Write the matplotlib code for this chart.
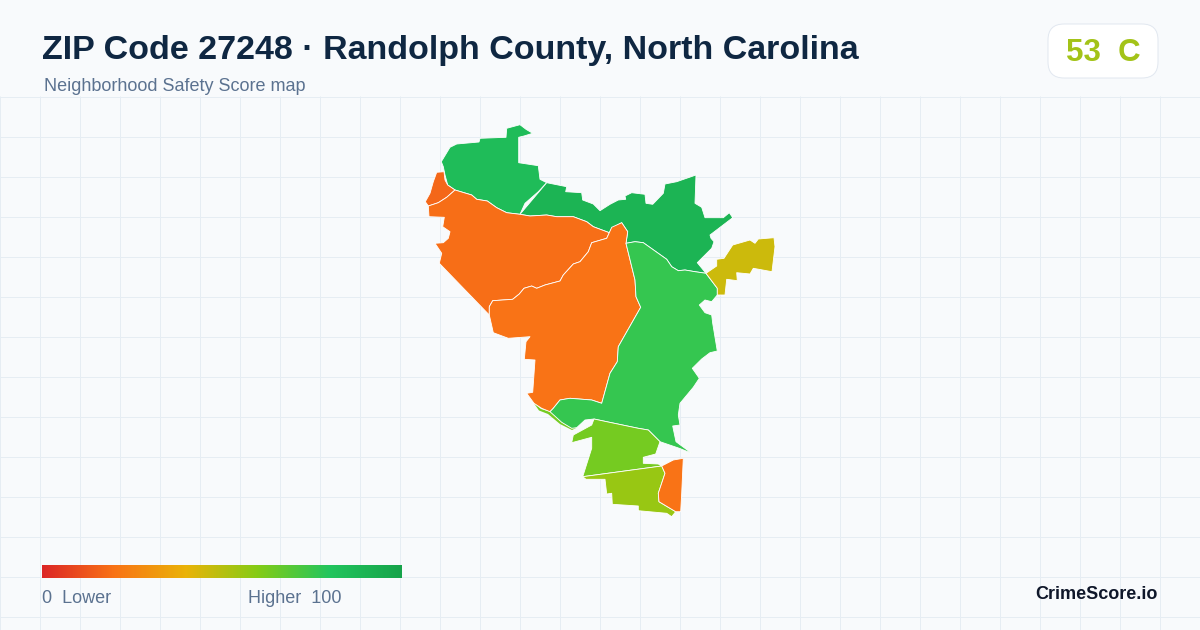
import numpy as np
import matplotlib
matplotlib.use("Agg")
import matplotlib.pyplot as plt
from matplotlib.colors import LinearSegmentedColormap
from matplotlib.patches import FancyBboxPatch, Polygon

TITLE = "ZIP Code 27248 · Randolph County, North Carolina"
SUBTITLE = "Neighborhood Safety Score map"
SCORE_TEXT = "53  C"
BRAND = "CrimeScore.io"

legend_stops = [0.0, 0.2, 0.4, 0.6, 0.8, 1.0]
legend_colors = ["#dc2626", "#f97316", "#eab308", "#84cc16", "#22c55e", "#16a34a"]

nw_green = [(441.3,161.7),(450,147.3),(456.7,144),(479,142),(480,138.3),(506,137.3),(506.7,128.3),(520,124.7),(526,129.3),(532.7,133.3),(524,136),(518.7,137.3),(518.7,162.7),(538.3,165.7),(540,179.3),(546.7,182.7),(538.3,191.7),(525,203.3),(520,214.3),(506.7,212.7),(496.7,207.7),(487.3,201),(476.7,199.3),(471.7,195),(455,190),(447.7,185),(445,175),(443.3,166.7)]
ne_green = [(546.7,182.7),(566.7,186.7),(565.7,191.7),(581.7,192.7),(582.7,200),(593.3,204),(600,210.7),(610,204.3),(618.3,200),(625.7,199.3),(625,196),(631.7,192.7),(645,194.3),(646,203.3),(652.7,204.3),(663.3,193.3),(665,184),(676.7,181.7),(696,175),(695,203.3),(701.7,207.3),(705,217.7),(723.3,217.7),(729.3,212.7),(732.7,217.7),(710,235),(711,238.3),(714,241.7),(711.7,248.3),(697.3,262.7),(706,273.3),(695,271.7),(685,270),(678.3,270.7),(671.7,266.7),(666.7,259.3),(643.3,242.7),(635,241.7),(626,243.3),(627.7,231.7),(621.7,222.7),(611.7,228.3),(609.3,232.7),(593.3,226.7),(586.7,221.7),(573.3,216.7),(556.7,216.7),(546.7,215),(530,216),(520,214.3)]
west_sliver = [(436.7,172.3),(444,171.7),(445,180),(447.7,185),(455,190),(446.7,197.3),(438.3,202.7),(428.3,206),(425.3,201.7),(430,193.3),(433.3,181.7)]
west_orange = [(428.3,206),(429,216.7),(444.3,217.3),(442.7,226.7),(450,231.7),(448.3,238.3),(443.3,242.7),(435,243.3),(441.7,253.3),(439.3,263.3),(489.3,315),(489.3,306.7),(492.7,300.7),(512.7,299.3),(519.3,294),(524,288.3),(531.7,286),(536.7,288.3),(545,285),(560,281),(563.3,275),(573.3,264),(580,261.7),(588.3,251.7),(591.7,242.7),(606.7,238.3),(609.3,232.7),(593.3,226.7),(586.7,221.7),(573.3,216.7),(556.7,216.7),(546.7,215),(530,216),(520,214.3),(506.7,212.7),(496.7,207.7),(487.3,201),(476.7,199.3),(471.7,195),(455,190),(446.7,197.3),(438.3,202.7)]
center_orange = [(609.3,232.7),(611.7,227.3),(621.7,222.7),(627.7,231.7),(626,243.3),(635,280),(636,296.7),(640.7,307.3),(618.3,346.7),(617.3,361.7),(610,373.3),(601.7,403.3),(591.7,400),(570,398.3),(560,400),(553.3,408.3),(550,411.7),(541.7,408.3),(534,403.3),(526.7,393.3),(532.7,392.3),(535,360),(524.3,359.3),(526,341.7),(530,336.7),(508.3,338.3),(493.3,332.7),(489.3,315),(489.3,306.7),(492.7,300.7),(512.7,299.3),(519.3,294),(524,288.3),(531.7,286),(536.7,288.3),(545,285),(560,281),(563.3,275),(573.3,264),(580,261.7),(588.3,251.7),(591.7,242.7),(606.7,238.3)]
east_green = [(601.7,403.3),(610,373.3),(617.3,361.7),(618.3,346.7),(640.7,307.3),(636,296.7),(635,280),(626,243.3),(635,241.7),(643.3,242.7),(666.7,259.3),(671.7,266.7),(678.3,270.7),(685,270),(695,271.7),(706,273.3),(717.3,288.3),(717.3,295),(711.7,301.7),(705,300),(699.3,305),(705,312.7),(711.7,315),(712.7,323.3),(717.3,351),(710,352.7),(701.7,359),(692.3,368.3),(699.3,378.3),(693.3,387.3),(680,403.3),(678.3,415),(680,425),(672.7,426),(676,441.7),(691.7,453.3),(679.3,448.3),(660,441.7),(648.3,430),(638.3,428.3),(606.7,421.7),(594,419),(585,420),(576.7,427.7),(571.7,428.3),(561.7,422.3),(550,411.7),(553.3,408.3),(560,400),(570,398.3),(591.7,400)]
south_lime = [(648.3,430),(660,441.7),(655.7,454),(643.3,457.3),(643.3,463.3),(658.3,464),(661.7,466),(582.7,476.7),(591.7,448.3),(591.7,437.3),(571.7,442.7),(573.3,435),(591.7,425),(594,419),(606.7,421.7),(638.3,428.3)]
thin_lime = [(534,403.3),(541,409),(550,411.7),(561.7,422.3),(571.7,428.3),(576.7,427.7),(572,430),(560,424),(548,414),(539,410.5)]
south_olive = [(661.7,466),(665,473.3),(658.3,493.3),(659,501.7),(675.7,511.7),(671.7,516.7),(666.7,513.3),(638.3,510.7),(638.3,506),(612.3,504.3),(611.7,493.3),(606.7,494),(605,479.3),(586,479.3),(582.7,476.7)]
south_orange = [(661.7,466),(673.3,460),(683.3,458.3),(681.7,493.3),(680.7,511.7),(675.7,511.7),(659,501.7),(658.3,493.3),(665,473.3)]
east_yellow = [(706,273.3),(716.7,266),(716.7,259.3),(724,258.3),(732.7,245),(750,240),(755,243.3),(758.3,239),(774,237.7),(775,246.7),(772,271.7),(753.3,268.3),(750,274),(736.7,272.7),(737.3,280.7),(726.7,279.3),(725,295),(717.3,295),(717.3,288.3)]

regions = [thin_lime, nw_green, ne_green, west_sliver, west_orange, center_orange, east_green,
           south_lime, south_olive, south_orange, east_yellow]
scores = [63, 85, 90, 17, 19, 20, 76, 63, 56, 20, 46]

BG = "#f8fafc"
GRID = "#e6edf3"
cmap = LinearSegmentedColormap.from_list("score", list(zip(legend_stops, legend_colors)))

fig = plt.figure(figsize=(12, 6.3), dpi=100, facecolor=BG)
ax = fig.add_axes([0, 0, 1, 1])
ax.set_facecolor(BG)
ax.axis("off")

ax.vlines(np.arange(0, 1200, 40), 96, 630, color=GRID, lw=0.72, zorder=1)
ax.hlines(np.arange(97, 630, 40), 0, 1200, color=GRID, lw=0.72, zorder=1)

for pts, s in zip(regions, scores):
    ax.add_patch(Polygon(pts, closed=True, facecolor=cmap(s / 100),
                         edgecolor="none" if pts is thin_lime else "white",
                         lw=0.6, joinstyle="round", zorder=3))

grad = np.linspace(0, 1, 512)[None, :]
ax.imshow(grad, cmap=cmap, extent=(42, 402, 578, 565), aspect="auto", zorder=3)

ax.add_patch(FancyBboxPatch((1064, 40), 78, 22, boxstyle="round,pad=16,rounding_size=16",
                            facecolor="white", edgecolor="#e2e8f0", lw=0.72, zorder=3))

SANS = "Liberation Sans"
ax.text(42, 59, TITLE, family=SANS, weight="bold", fontsize=24.48, color="#0f2742", va="baseline", zorder=4)
ax.text(44, 91, SUBTITLE, family=SANS, fontsize=12.95, color="#5b7290", va="baseline", zorder=4)
ax.text(1103, 61, SCORE_TEXT, family=SANS, weight="bold", fontsize=22.5, color="#a3c318", ha="center", va="baseline", zorder=4)
ax.text(42, 603, "0  Lower", family=SANS, fontsize=12.95, color="#5b7290", va="baseline", zorder=4)
ax.text(342, 603, "Higher  100", family=SANS, fontsize=12.95, color="#5b7290", ha="right", va="baseline", zorder=4)
ax.text(1158, 599, BRAND, family=SANS, weight="bold", fontsize=13.0, color="#0f172a", ha="right", va="baseline", zorder=4)

ax.set_xlim(0, 1200)
ax.set_ylim(630, 0)
fig.savefig("out.png", dpi=100, facecolor=BG)
